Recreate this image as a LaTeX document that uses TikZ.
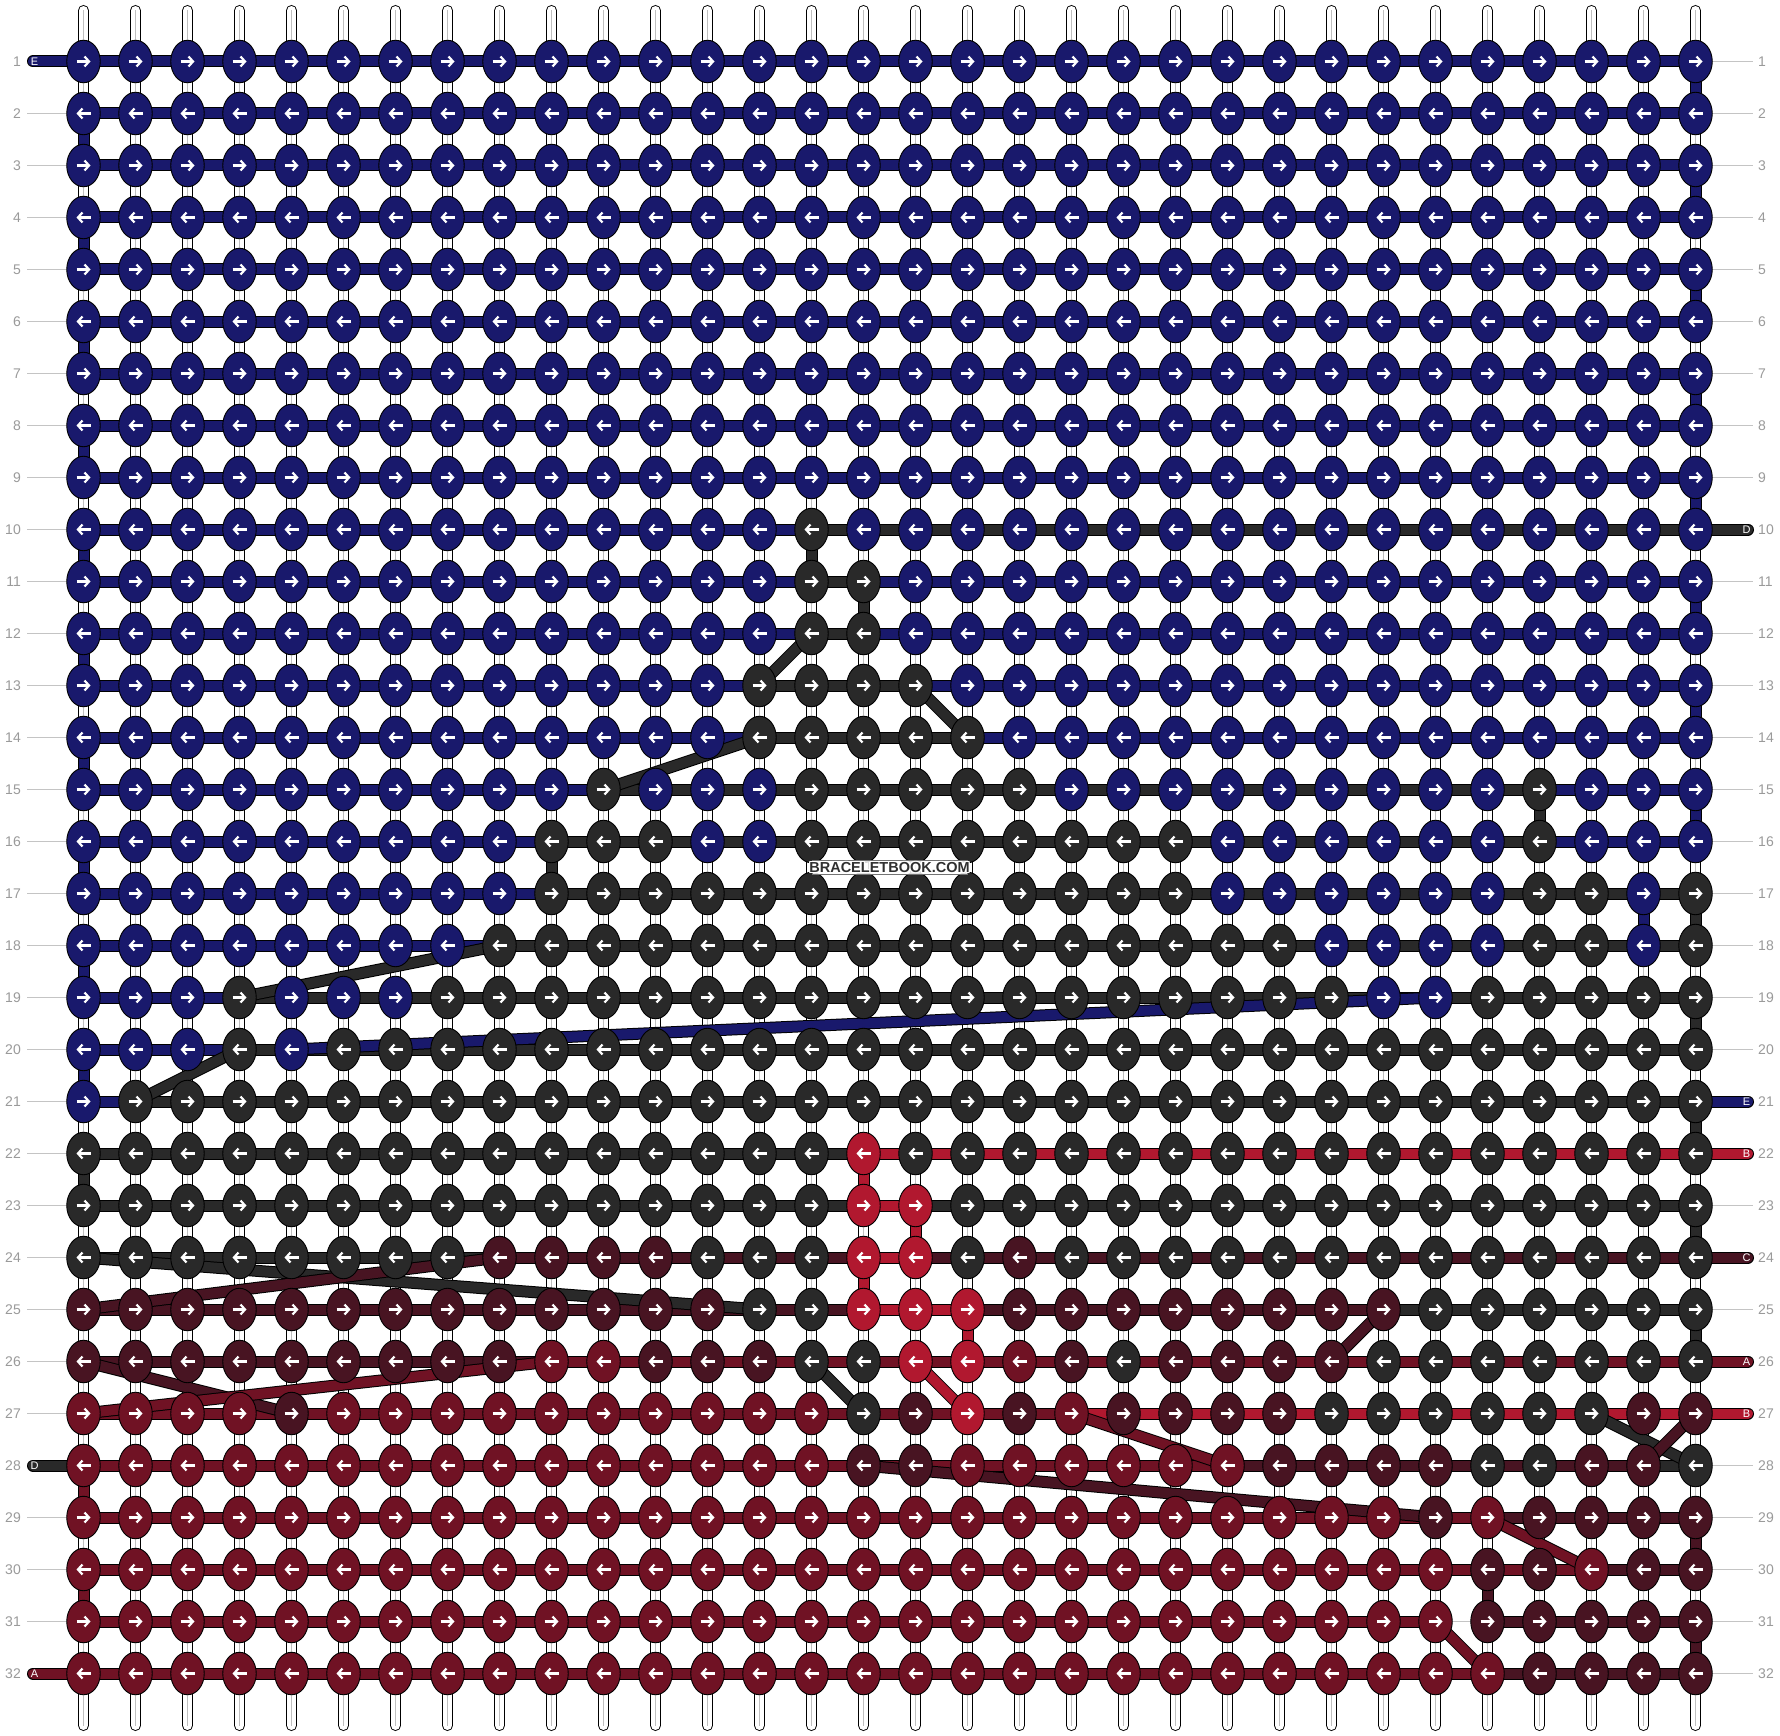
\documentclass[tikz,border=0pt]{standalone}
\usepackage{fontspec}
\setmainfont{Liberation Sans}
\usetikzlibrary{shapes.geometric,arrows.meta}
\definecolor{cN}{HTML}{19196C}
\definecolor{cG}{HTML}{292929}
\definecolor{cM}{HTML}{481422}
\definecolor{cR}{HTML}{701224}
\definecolor{cB}{HTML}{B1182F}
\definecolor{lblgray}{HTML}{9A9A9A}
\definecolor{tickgray}{HTML}{C4C4C4}
\definecolor{wmgray}{HTML}{303030}
\pgfdeclarelayer{guide}
\pgfdeclarelayer{warp}
\pgfdeclarelayer{weft}
\pgfsetlayers{guide,warp,weft,main}
\tikzset{
  knot/.style={ellipse, draw=black, line width=0.9pt, minimum width=33.5pt, minimum height=42.5pt, inner sep=0pt},
  wout/.style={draw=black, line width=12pt, line cap=round},
  wfill/.style={draw=#1, line width=10pt, line cap=round},
  arrowglyph/.style={draw=white, line width=2.2pt, -{Straight Barb[length=4.5pt,width=10pt]}},
  rownum/.style={text=lblgray, font=\fontsize{14}{16}\selectfont, inner sep=0pt},
  stubletter/.style={text=white, font=\fontsize{11}{12}\selectfont, inner sep=0pt},
  wmtext/.style={font=\fontsize{14.5}{16}\selectfont\bfseries, inner sep=0pt},
}
\begin{document}
\begin{tikzpicture}[x=1pt,y=-1pt]
\useasboundingbox (0,0) rectangle (1780,1736);
% ---------- knots ----------
\foreach \ro in {1,...,9}{\foreach \co in {1,...,32}{
  \node[knot, fill=cN] (k-\ro-\co) at ({83.5+52*(\co-1)},{61.5+52*(\ro-1)}) {};}}
\foreach \ro/\a/\b/\kc in {
 10/1/14/cN,10/15/15/cG,10/16/32/cN,
 11/1/14/cN,11/15/16/cG,11/17/32/cN,
 12/1/14/cN,12/15/16/cG,12/17/32/cN,
 13/1/13/cN,13/14/17/cG,13/18/32/cN,
 14/1/13/cN,14/14/18/cG,14/19/32/cN,
 15/1/10/cN,15/11/11/cG,15/12/14/cN,15/15/19/cG,15/20/28/cN,15/29/29/cG,15/30/32/cN,
 16/1/9/cN,16/10/12/cG,16/13/14/cN,16/15/22/cG,16/23/28/cN,16/29/29/cG,16/30/32/cN,
 17/1/9/cN,17/10/22/cG,17/23/28/cN,17/29/30/cG,17/31/31/cN,17/32/32/cG,
 18/1/8/cN,18/9/24/cG,18/25/28/cN,18/29/30/cG,18/31/31/cN,18/32/32/cG,
 19/1/3/cN,19/4/4/cG,19/5/7/cN,19/8/25/cG,19/26/27/cN,19/28/32/cG,
 20/1/3/cN,20/4/4/cG,20/5/5/cN,20/6/32/cG,
 21/1/1/cN,21/2/32/cG,
 22/1/15/cG,22/16/16/cB,22/17/32/cG,
 23/1/15/cG,23/16/17/cB,23/18/32/cG,
 24/1/8/cG,24/9/12/cM,24/13/15/cG,24/16/17/cB,24/18/18/cG,24/19/19/cM,24/20/32/cG,
 25/1/13/cM,25/14/15/cG,25/16/18/cB,25/19/26/cM,25/27/32/cG,
 26/1/9/cM,26/10/11/cR,26/12/14/cM,26/15/16/cG,26/17/18/cB,26/19/19/cR,26/20/20/cM,26/21/21/cG,26/22/25/cM,26/26/32/cG,
 27/1/4/cR,27/5/5/cM,27/6/15/cR,27/16/16/cG,27/17/17/cM,27/18/18/cB,27/19/19/cM,27/20/20/cR,27/21/24/cM,27/25/30/cG,27/31/32/cM,
 28/1/15/cR,28/16/17/cM,28/18/23/cR,28/24/27/cM,28/28/29/cG,28/30/31/cM,28/32/32/cG,
 29/1/26/cR,29/27/27/cM,29/28/28/cR,29/29/32/cM,
 30/1/27/cR,30/28/29/cM,30/30/30/cR,30/31/32/cM,
 31/1/27/cR,31/28/32/cM,
 32/1/28/cR,32/29/32/cM}{
  \foreach \co in {\a,...,\b}{
    \node[knot, fill=\kc] (k-\ro-\co) at ({83.5+52*(\co-1)},{61.5+52*(\ro-1)}) {};}}
% arrows inside knots
\foreach \ro in {1,...,32}{\foreach \co in {1,...,32}{
  \ifodd\ro
    \draw[arrowglyph] (k-\ro-\co.center) ++(-7,0) -- ++(14,0);
  \else
    \draw[arrowglyph] (k-\ro-\co.center) ++(7,0) -- ++(-14,0);
  \fi}}
% stub end points
\foreach \nm/\ro in {L1/1,L28/28,L32/32}{\coordinate (\nm) at (33,{61.5+52*(\ro-1)});}
\foreach \nm/\ro in {R10/10,R21/21,R22/22,R24/24,R26/26,R27/27}{\coordinate (\nm) at (1748,{61.5+52*(\ro-1)});}
% ---------- background, guides ----------
\begin{pgfonlayer}{guide}
  \fill[white] (0,0) rectangle (1780,1736);
  \foreach \ro in {1,...,32}{
    \coordinate (gl-\ro) at (27,{61.5+52*(\ro-1)});
    \coordinate (gr-\ro) at (1753,{61.5+52*(\ro-1)});
    \draw[tickgray, line width=1pt] (gl-\ro) -- (gr-\ro);}
\end{pgfonlayer}
% ---------- vertical strings ----------
\begin{pgfonlayer}{warp}
  \foreach \co in {1,...,32}{
    \coordinate (wt-\co) at ({83.5+52*(\co-1)},10.5);
    \coordinate (wb-\co) at ({83.5+52*(\co-1)},1725.5);
    \draw[black, line width=11pt, line cap=round] (wt-\co) -- (wb-\co);
    \draw[white, line width=9pt, line cap=round] (wt-\co) -- (wb-\co);
    \draw[black!25, line width=1.2pt] (wt-\co) -- (wb-\co);}
\end{pgfonlayer}
% ---------- working strings ----------
\begin{pgfonlayer}{weft}
  \draw[wout] (L1) -- (k-1-32.center); \draw[wfill=cN] (L1) -- (k-1-32.center);
  \foreach \ro in {2,...,9}{
    \draw[wout] (k-\ro-1.center) -- (k-\ro-32.center);
    \draw[wfill=cN] (k-\ro-1.center) -- (k-\ro-32.center);}
  \foreach \fa/\fb/\kc in {
   k-10-1/k-10-32/cN, k-10-15/R10/cG,
   k-11-1/k-11-32/cN, k-11-15/k-11-16/cG,
   k-12-1/k-12-32/cN, k-12-15/k-12-16/cG,
   k-13-1/k-13-32/cN, k-13-14/k-13-17/cG,
   k-14-1/k-14-32/cN, k-14-14/k-14-18/cG,
   k-15-1/k-15-32/cN, k-15-11/k-15-29/cG,
   k-16-1/k-16-32/cN, k-16-10/k-16-29/cG,
   k-17-1/k-17-31/cN, k-17-10/k-17-32/cG,
   k-18-1/k-18-31/cN, k-18-9/k-18-32/cG,
   k-19-1/k-19-27/cN, k-19-4/k-19-32/cG,
   k-20-1/k-20-5/cN, k-20-4/k-20-32/cG,
   k-21-1/R21/cN, k-21-2/k-21-32/cG,
   k-22-1/k-22-32/cG, k-22-16/R22/cB,
   k-23-1/k-23-32/cG, k-23-16/k-23-17/cB,
   k-24-1/k-24-32/cG, k-24-9/R24/cM, k-24-16/k-24-17/cB,
   k-25-14/k-25-32/cG, k-25-1/k-25-26/cM, k-25-16/k-25-18/cB,
   k-26-15/k-26-32/cG, k-26-1/k-26-25/cM, k-26-17/k-26-18/cB, k-26-10/R26/cR,
   k-27-16/k-27-30/cG, k-27-5/k-27-32/cM, k-27-18/R27/cB, k-27-1/k-27-20/cR,
   L28/k-28-32/cG, k-28-16/k-28-31/cM, k-28-1/k-28-23/cR,
   k-29-27/k-29-32/cM, k-29-1/k-29-28/cR,
   k-30-28/k-30-32/cM, k-30-1/k-30-30/cR,
   k-31-28/k-31-32/cM, k-31-1/k-31-27/cR,
   k-32-28/k-32-32/cM, L32/k-32-28/cR}{
    \draw[wout] (\fa.center) -- (\fb.center);
    \draw[wfill=\kc] (\fa.center) -- (\fb.center);}
  % turns and carries between rows
  \foreach \ra/\rb in {1/2,3/4,5/6,7/8,9/10,11/12,13/14,15/16}{
    \draw[wout] (k-\ra-32.center) -- (k-\rb-32.center);
    \draw[wfill=cN] (k-\ra-32.center) -- (k-\rb-32.center);}
  \foreach \ra/\rb in {2/3,4/5,6/7,8/9,10/11,12/13,14/15,16/17,18/19,20/21}{
    \draw[wout] (k-\ra-1.center) -- (k-\rb-1.center);
    \draw[wfill=cN] (k-\ra-1.center) -- (k-\rb-1.center);}
  \foreach \fa/\fb/\kc in {
   k-17-31/k-18-31/cN, k-19-27/k-20-5/cN,
   k-10-15/k-11-15/cG, k-11-16/k-12-16/cG, k-12-15/k-13-14/cG, k-13-17/k-14-18/cG,
   k-14-14/k-15-11/cG, k-15-29/k-16-29/cG, k-16-10/k-17-10/cG, k-17-32/k-18-32/cG,
   k-18-9/k-19-4/cG, k-19-32/k-20-32/cG, k-20-4/k-21-2/cG, k-21-32/k-22-32/cG,
   k-22-1/k-23-1/cG, k-23-32/k-24-32/cG, k-24-1/k-25-14/cG, k-25-32/k-26-32/cG,
   k-26-15/k-27-16/cG, k-27-30/k-28-32/cG,
   k-24-9/k-25-1/cM, k-25-26/k-26-25/cM, k-26-1/k-27-5/cM, k-27-32/k-28-31/cM,
   k-28-16/k-29-27/cM, k-29-32/k-30-32/cM, k-30-28/k-31-28/cM, k-31-32/k-32-32/cM,
   k-22-16/k-23-16/cB, k-23-17/k-24-17/cB, k-24-16/k-25-16/cB, k-25-18/k-26-18/cB,
   k-26-17/k-27-18/cB,
   k-26-10/k-27-1/cR, k-27-20/k-28-23/cR, k-28-1/k-29-1/cR, k-29-28/k-30-30/cR,
   k-30-1/k-31-1/cR, k-31-27/k-32-28/cR}{
    \draw[wout] (\fa.center) -- (\fb.center);
    \draw[wfill=\kc] (\fa.center) -- (\fb.center);}
\end{pgfonlayer}
% ---------- labels ----------
\foreach \ro in {1,...,32}{
  \node[rownum, anchor=east] (nl-\ro) at (21,{61.5+52*(\ro-1)}) {\ro};
  \node[rownum, anchor=west] (nr-\ro) at (1758,{61.5+52*(\ro-1)}) {\ro};}
\foreach \nm/\tx in {L1/E,L28/D,L32/A}{\node[stubletter] (s-\nm) at ([xshift=1.5pt]\nm) {\tx};}
\foreach \nm/\tx in {R10/D,R21/E,R22/B,R24/C,R26/A,R27/B}{\node[stubletter] (s-\nm) at ([xshift=-1.5pt]\nm) {\tx};}
% watermark
\node[draw=black!55, line width=0.6pt, fill=white, fill opacity=0.85, minimum width=155pt, minimum height=13.5pt, inner sep=0pt] (wmbox) at (889.5,867.5) {};
\foreach \dx/\dy [count=\i] in {1/0,-1/0,0/1,0/-1,1/1,-1/1,1/-1,-1/-1}{
  \node[wmtext, text=white] (wmh\i) at (889.5+\dx,867.5+\dy) {BRACELETBOOK.COM};}
\node[wmtext, text=wmgray] (wm) at (889.5,867.5) {BRACELETBOOK.COM};
\end{tikzpicture}
\end{document}
